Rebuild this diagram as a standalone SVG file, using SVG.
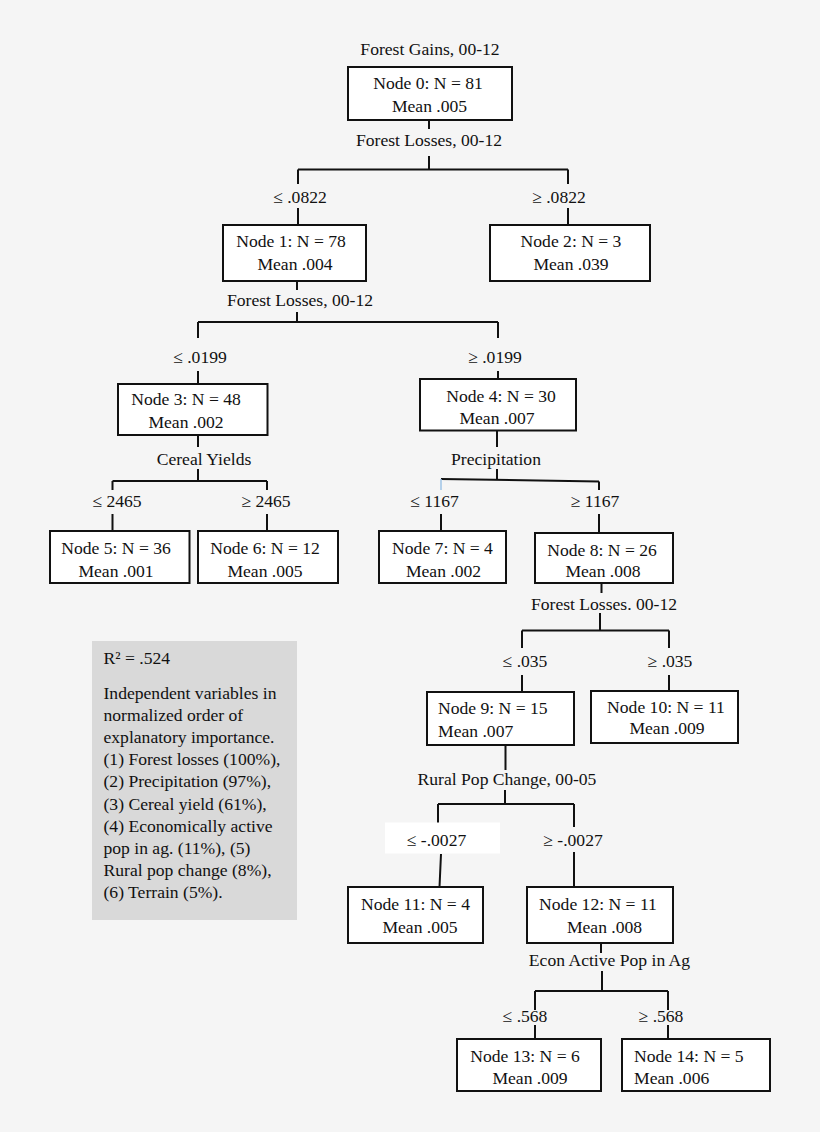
<svg xmlns="http://www.w3.org/2000/svg" width="820" height="1132" viewBox="0 0 820 1132">
<style>
text{font-family:"Liberation Serif","Times New Roman",serif;font-size:17.6px;fill:#111}
.m{text-anchor:middle}
.box{fill:#fff;stroke:#111;stroke-width:2}
.ln{stroke:#111;stroke-width:2;fill:none}
</style>
<rect width="820" height="1132" fill="#f5f5f5"/>
<g id="connectors">
<path class="ln" d="M429,120V129 M429,156V169.5 M298,169.5H568 M298,169.5V184 M568,169.5V184 M298,208V225 M568,208V225"/>
<path class="ln" d="M297,281V290 M297,312V322 M198,322H498 M198,322V338 M498,322V338 M198,371V384 M498,371V379"/>
<path class="ln" d="M198,435V447 M198,469V481 M112.5,481H267 M112.5,481V490 M267,481V490 M112.5,514V531 M267,514V531"/>
<path class="ln" d="M497,431V447 M497,469V480 M441,479L599,481.5 M599,481.5V490 M441,514V531 M599,514V533"/>
<path d="M441,479V490" stroke="#9ec3e6" stroke-width="1.5"/>
<path class="ln" d="M601.5,583V593 M600,613V630.5 M522,630.5H669 M522,630.5V648 M669,630.5V648 M522,675V692 M669,675V691"/>
<path class="ln" d="M505.5,745V770 M505,790V804 M438,804H574 M438,804V823 M574,804V827 M441,854L439.5,887 M574,852V887"/>
<path class="ln" d="M601,943V953 M602,971V991 M535,991H668 M535,991V1010 M668,991V1010 M535,1025V1039 M668,1025V1039"/>
<rect x="385" y="822.5" width="115" height="31" fill="#fff"/>
</g>
<g id="title"><text class="m" x="430" y="55">Forest Gains, 00-12</text></g>
<g id="node0"><rect class="box" x="348" y="67" width="164" height="53"/><text class="m" x="428" y="89">Node 0: N = 81</text><text class="m" x="429.5" y="112">Mean .005</text></g>
<g id="split0"><text class="m" x="429" y="146">Forest Losses, 00-12</text><text class="m" x="300" y="203">≤ .0822</text><text class="m" x="559" y="203">≥ .0822</text></g>
<g id="node1"><rect class="box" x="223" y="225" width="143" height="56"/><text class="m" x="291" y="247">Node 1: N = 78</text><text class="m" x="295" y="269.5">Mean .004</text></g>
<g id="node2"><rect class="box" x="490" y="225" width="160" height="56"/><text class="m" x="571" y="247">Node 2: N = 3</text><text class="m" x="571" y="269.5">Mean .039</text></g>
<g id="split1"><text class="m" x="300" y="306">Forest Losses, 00-12</text><text class="m" x="200" y="363">≤ .0199</text><text class="m" x="495" y="363">≥ .0199</text></g>
<g id="node3"><rect class="box" x="118" y="384" width="149.5" height="51"/><text class="m" x="186" y="405">Node 3: N = 48</text><text class="m" x="186" y="427.5">Mean .002</text></g>
<g id="node4"><rect class="box" x="420" y="379" width="156" height="51.5"/><text class="m" x="501" y="401.5">Node 4: N = 30</text><text class="m" x="497" y="423.5">Mean .007</text></g>
<g id="split3"><text class="m" x="204" y="465">Cereal Yields</text><text class="m" x="117" y="506.5">≤ 2465</text><text class="m" x="266" y="506.5">≥ 2465</text></g>
<g id="split4"><text class="m" x="496" y="465">Precipitation</text><text class="m" x="434.5" y="506.5">≤ 1167</text><text class="m" x="595" y="506.5">≥ 1167</text></g>
<g id="node5"><rect class="box" x="50" y="531" width="139.5" height="52"/><text class="m" x="116" y="554">Node 5: N = 36</text><text class="m" x="116" y="576.5">Mean .001</text></g>
<g id="node6"><rect class="box" x="198" y="531" width="140" height="52"/><text class="m" x="265" y="554">Node 6: N = 12</text><text class="m" x="265" y="576.5">Mean .005</text></g>
<g id="node7"><rect class="box" x="379" y="531" width="127" height="52"/><text class="m" x="442.5" y="554">Node 7: N = 4</text><text class="m" x="443.5" y="576.5">Mean .002</text></g>
<g id="node8"><rect class="box" x="535" y="533" width="138" height="50"/><text class="m" x="602" y="555.5">Node 8: N = 26</text><text class="m" x="603" y="577">Mean .008</text></g>
<g id="split8"><text class="m" x="604" y="609.5">Forest Losses. 00-12</text><text class="m" x="525" y="667">≤ .035</text><text class="m" x="670" y="667">≥ .035</text></g>
<g id="node9"><rect class="box" x="427" y="692" width="147" height="53"/><text x="438" y="713.5">Node 9: N = 15</text><text x="438" y="737">Mean .007</text></g>
<g id="node10"><rect class="box" x="591" y="691" width="147" height="52"/><text class="m" x="666" y="713">Node 10: N = 11</text><text class="m" x="667" y="734">Mean .009</text></g>
<g id="split9"><text class="m" x="507" y="785">Rural Pop Change, 00-05</text><text class="m" x="436.5" y="846">≤ -.0027</text><text class="m" x="573" y="846">≥ -.0027</text></g>
<g id="node11"><rect class="box" x="348" y="887" width="135" height="56"/><text class="m" x="415.5" y="910">Node 11: N = 4</text><text class="m" x="420" y="933">Mean .005</text></g>
<g id="node12"><rect class="box" x="527" y="887" width="146" height="56"/><text class="m" x="598" y="910">Node 12: N = 11</text><text class="m" x="604.5" y="933">Mean .008</text></g>
<g id="split12"><text class="m" x="609.5" y="966">Econ Active Pop in Ag</text><text class="m" x="525" y="1022">≤ .568</text><text class="m" x="661" y="1022">≥ .568</text></g>
<g id="node13"><rect class="box" x="457" y="1039" width="144" height="52"/><text class="m" x="525" y="1062">Node 13: N = 6</text><text class="m" x="530" y="1083.5">Mean .009</text></g>
<g id="node14"><rect class="box" x="622" y="1039" width="148" height="52"/><text x="634" y="1062">Node 14: N = 5</text><text x="634" y="1083.5">Mean .006</text></g>
<g id="legend">
<rect x="92" y="641" width="205" height="279" fill="#d9d9d9"/>
<text x="103.5" y="663.5">R² = .524</text>
<text x="103.5" y="698.5">Independent variables in</text>
<text x="103.5" y="720.7">normalized order of</text>
<text x="103.5" y="742.9">explanatory importance.</text>
<text x="103.5" y="765.1">(1) Forest losses (100%),</text>
<text x="103.5" y="787.3">(2) Precipitation (97%),</text>
<text x="103.5" y="809.5">(3) Cereal yield (61%),</text>
<text x="103.5" y="831.7">(4) Economically active</text>
<text x="103.5" y="853.9">pop in ag. (11%), (5)</text>
<text x="103.5" y="876.1">Rural pop change (8%),</text>
<text x="103.5" y="898.3">(6) Terrain (5%).</text>
</g>
</svg>
